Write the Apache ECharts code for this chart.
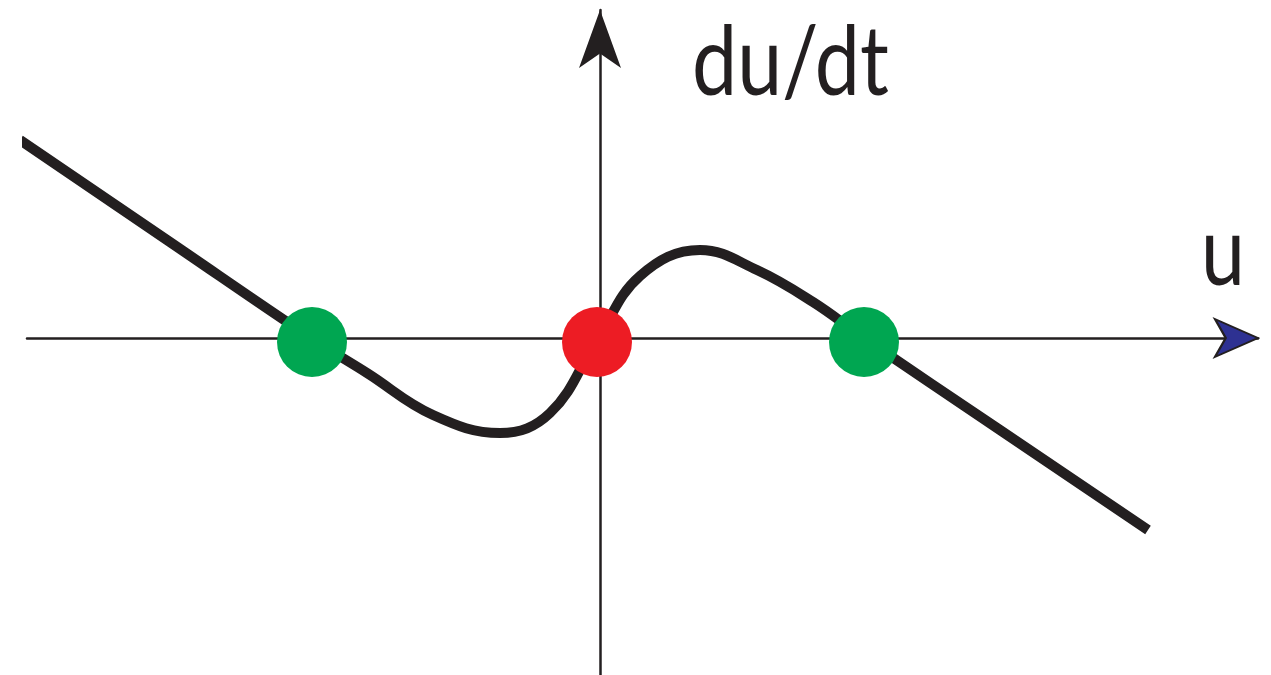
<!DOCTYPE html>
<html>
<head>
<meta charset="utf-8">
<title>du/dt vs u</title>
<script src="https://cdn.jsdelivr.net/npm/echarts@6/dist/echarts.min.js"></script>
<style>
  html, body { margin: 0; padding: 0; background: #fff; }
  #chart { width: 1271px; height: 675px; }
</style>
</head>
<body>
<div id="chart"></div>
<script>
// phase line: rate of change du/dt against u
const curveU    = [-5.80, -4.33, -2.89, -2.33, -1.67, -1.00, -0.50, -0.03, 0.40, 1.00, 1.57, 2.13, 2.64, 4.00, 5.48];
const curveRate = [ 1.98,  0.98,  0.00, -0.35, -0.77, -0.95, -0.75, -0.02, 0.62, 0.88, 0.68, 0.36, 0.00, -0.92, -1.92];

// fixed points
const stableU = [-2.88, 2.64];
const unstableU = [-0.03];
const rootRate = -0.04;

const uRange = [-5.73, 6.58];
const rateRange = [-3.37, 3.28];

const ink = '#231F20';

const chart = echarts.init(document.getElementById('chart'));

const curveData = curveU.map((u, i) => [u, curveRate[i]]);

chart.setOption({
    animation: false,
    grid: { left: 27, right: 13, top: 10, bottom: 0 },
    xAxis: {
        type: 'value',
        min: uRange[0],
        max: uRange[1],
        axisLine: { onZero: true, symbol: 'none', lineStyle: { color: ink, width: 2.5 } },
        axisTick: { show: false },
        axisLabel: { show: false },
        splitLine: { show: false }
    },
    yAxis: {
        type: 'value',
        min: rateRange[0],
        max: rateRange[1],
        axisLine: {
            onZero: true,
            symbol: ['none', 'arrow'],
            symbolSize: [31.5, 58],
            lineStyle: { color: ink, width: 2.5 }
        },
        axisTick: { show: false },
        axisLabel: { show: false },
        splitLine: { show: false }
    },
    series: [
        {
            type: 'line',
            data: curveData,
            smooth: 0.4,
            showSymbol: false,
            clip: false,
            lineStyle: { color: ink, width: 10 },
            z: 2
        },
        {
            // arrow head of the u axis
            type: 'scatter',
            data: [[uRange[1], 0]],
            symbol: 'arrow',
            symbolSize: [28.5, 43],
            symbolRotate: -90,
            clip: false,
            itemStyle: { color: '#2E3192', borderColor: ink, borderWidth: 2, opacity: 1 },
            z: 3
        },
        {
            type: 'scatter',
            data: stableU.map(u => [u, rootRate]),
            symbolSize: 70,
            itemStyle: { color: '#00A651', opacity: 1 },
            z: 4
        },
        {
            type: 'scatter',
            data: unstableU.map(u => [u, rootRate]),
            symbolSize: 70,
            itemStyle: { color: '#ED1C24', opacity: 1 },
            z: 4
        }
    ],
    graphic: [
        {
            type: 'text',
            x: 692,
            y: 64,
            scaleX: 0.84,
            style: { text: 'du/dt', font: '96px Lato', fill: ink, verticalAlign: 'middle' }
        },
        {
            type: 'text',
            x: 1201,
            y: 254,
            scaleX: 0.82,
            style: { text: 'u', font: '96px Lato', fill: ink, verticalAlign: 'middle' }
        }
    ]
});
</script>
</body>
</html>
